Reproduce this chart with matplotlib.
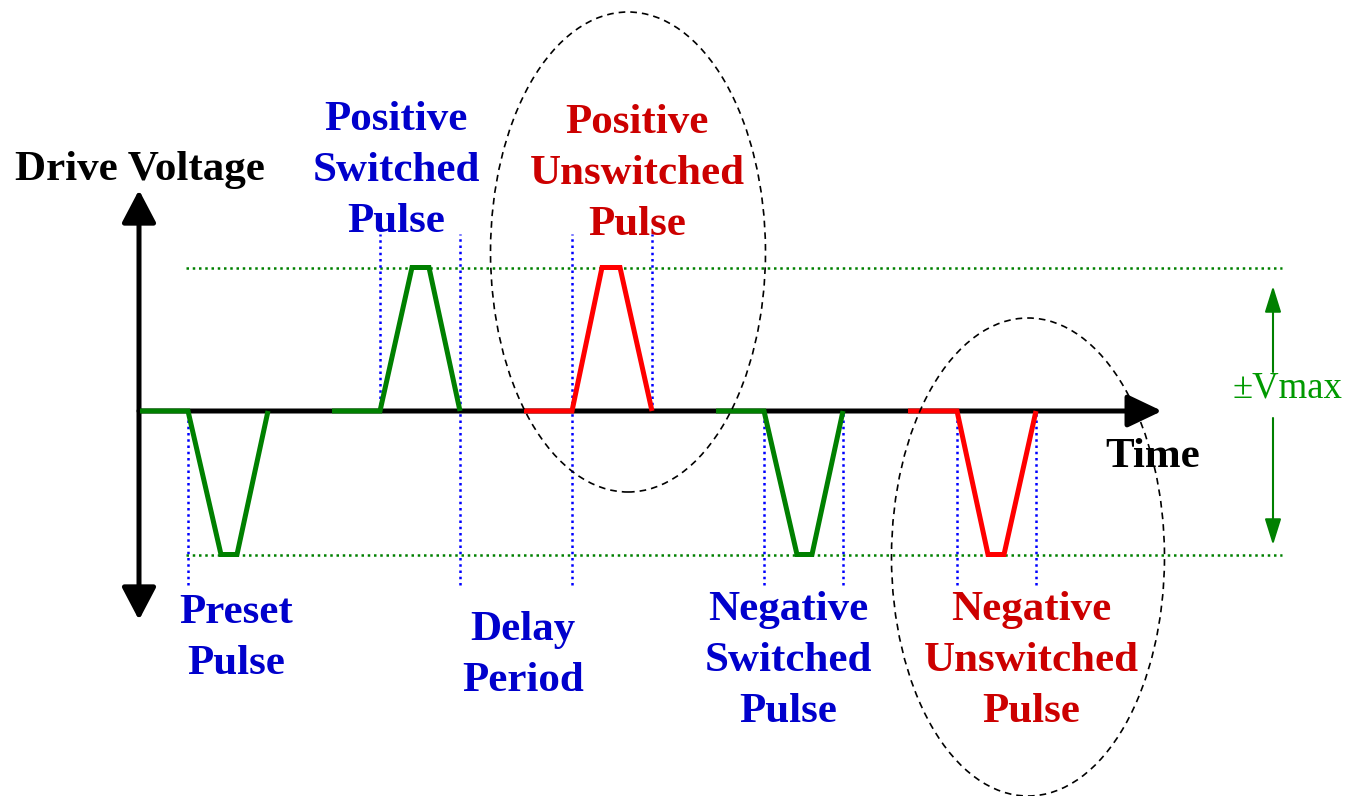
import matplotlib
matplotlib.use("Agg")
import matplotlib.pyplot as plt
from matplotlib.patches import Ellipse, FancyArrowPatch

# ---------------- data (time in px-like units, voltage normalised to Vmax) -------------
preset_t = [140, 188, 221, 237, 268]
preset_v = [0, 0, -1, -1, 0]
pos_sw_t = [332, 380, 412, 429, 460]
pos_sw_v = [0, 0, 1, 1, 0]
pos_un_t = [524, 572, 602, 620, 652]
pos_un_v = [0, 0, 1, 1, 0]
neg_sw_t = [716, 764, 797, 812, 843]
neg_sw_v = [0, 0, -1, -1, 0]
neg_un_t = [908, 957, 988, 1004, 1036]
neg_un_v = [0, 0, -1, -1, 0]

marker_t = [188, 380, 460, 572, 652, 764, 843, 957, 1036]
marker_lo = [-1.21, 0, -1.21, -1.21, 0, -1.21, -1.21, -1.21, -1.21]
marker_hi = [0, 1.23, 1.23, 1.23, 1.23, 0, 0, 0, 0]

vmax_levels = [1, -1]
vmax_t_range = [186, 1282]

labels_blue = ["Positive\nSwitched\nPulse", "Preset\nPulse", "Delay\nPeriod",
               "Negative\nSwitched\nPulse"]
labels_red = ["Positive\nUnswitched\nPulse", "Negative\nUnswitched\nPulse"]

# ---------------- layout -------------------------------------------------------
W, H = 1346, 796
PX0 = 411.0      # pixel row of zero volts
PXV = 143.5      # pixels per Vmax


def vy(p):
    return (PX0 - p) / PXV


fig = plt.figure(figsize=(W / 100, H / 100), dpi=100)
ax = fig.add_axes([0, 0, 1, 1])
ax.set_xlim(0, W)
ax.set_ylim(vy(H), vy(0))
ax.axis("off")

GREEN = "#008000"
RED = "#FF0000"
BLUE_T = "#0000CC"
RED_T = "#CC0000"

# Vmax dotted levels
for lv in vmax_levels:
    ax.plot(vmax_t_range, [lv, lv], color=GREEN, lw=1.8, ls=(0, (1, 1.5)), zorder=2)

# blue dotted markers
for t, lo, hi in zip(marker_t, marker_lo, marker_hi):
    ax.plot([t, t], [lo, hi], color="#0000FF", lw=1.8, ls=(0, (1, 1.5)), zorder=2)

# axes arrows
ax.add_patch(FancyArrowPatch((139, vy(620)), (139, vy(190)),
                             arrowstyle="<|-|>,head_length=20,head_width=10.5",
                             color="black", lw=3.6, shrinkA=0, shrinkB=0, zorder=3))
ax.add_patch(FancyArrowPatch((139, 0), (1162, 0),
                             arrowstyle="-|>,head_length=21,head_width=10",
                             color="black", lw=3.6, shrinkA=0, shrinkB=0, zorder=3))

# pulses
for t, v, c in [(preset_t, preset_v, GREEN), (pos_sw_t, pos_sw_v, GREEN),
                (pos_un_t, pos_un_v, RED), (neg_sw_t, neg_sw_v, GREEN),
                (neg_un_t, neg_un_v, RED)]:
    ax.plot(t, v, color=c, lw=3.6, solid_joinstyle="miter", solid_capstyle="butt",
            zorder=4)

# dashed ellipses
for cx, cy, w, h in [(628, 252, 275, 480), (1028, 557, 273, 478)]:
    ax.add_patch(Ellipse((cx, vy(cy)), w, h / PXV, fill=False, ec="black",
                         lw=1.2, ls=(0, (4, 3)), zorder=5))

# Vmax arrows
ax.add_patch(FancyArrowPatch((1273, vy(372)), (1273, vy(286)),
                             arrowstyle="-|>,head_length=16,head_width=5",
                             color=GREEN, lw=1.5, shrinkA=0, shrinkB=0))
ax.add_patch(FancyArrowPatch((1273, vy(418)), (1273, vy(545)),
                             arrowstyle="-|>,head_length=16,head_width=5",
                             color=GREEN, lw=1.5, shrinkA=0, shrinkB=0))
ax.text(1233, vy(398), "±Vmax", color="#009900", fontsize=26.5,
        family="Liberation Serif", ha="left", va="baseline")

# text labels
bold = dict(family="Liberation Serif", fontweight="bold", fontsize=31)
ax.text(15, vy(180), "Drive Voltage", color="black", ha="left", va="baseline", **bold)
ax.text(1105, vy(467), "Time", color="black", ha="left", va="baseline", **bold)


def stack(x, first_baseline, text, color):
    for i, line in enumerate(text.split("\n")):
        ax.text(x, vy(first_baseline + 51 * i), line, color=color, ha="center",
                va="baseline", **bold)


blue_pos = [(396, 130), (236, 623), (523, 640), (788, 620)]
red_pos = [(637, 133), (1031, 620)]
for (x, b), s in zip(blue_pos, labels_blue):
    stack(x, b, s, BLUE_T)
for (x, b), s in zip(red_pos, labels_red):
    stack(x, b, s, RED_T)

fig.savefig("out.png", dpi=100)
